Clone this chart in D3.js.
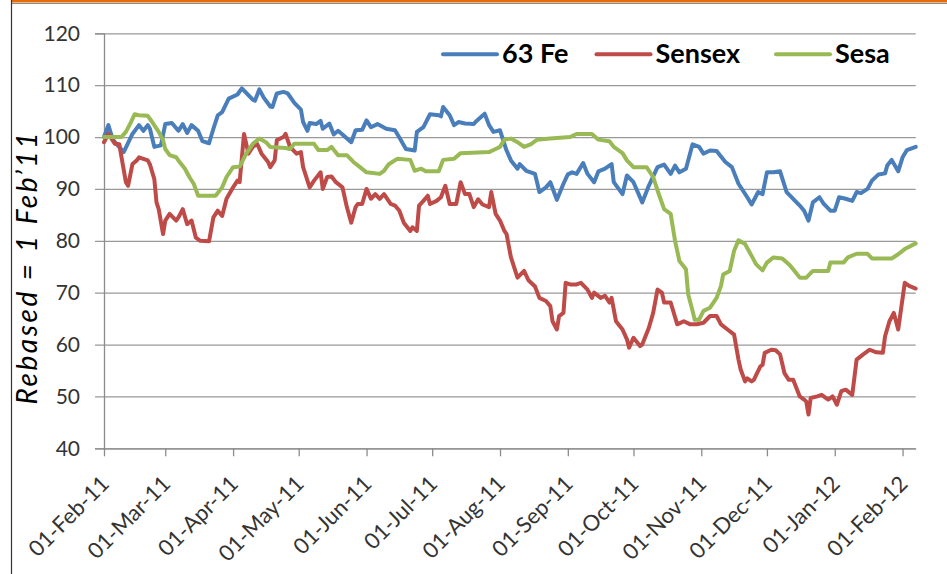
<!DOCTYPE html>
<html>
<head>
<meta charset="utf-8">
<script src="https://cdn.jsdelivr.net/npm/d3@7"></script>
<style>
  body { margin: 0; background: #fff; }
  svg { display: block; font-family: Lato, 'Open Sans', sans-serif; }
  .axis text { fill: #333; font-size: 21px; font-family: Lato, 'Open Sans', sans-serif; }
  .x.axis text { font-size: 22px; }
  .axis path, .axis line { stroke: #8c8c8c; stroke-width: 1.3; }
  .grid line { stroke: #999; stroke-width: 1.3; }
  .grid path { display: none; }
</style>
</head>
<body>
<div id="chart"></div>
<script>
// Rebased series, 1 Feb 2011 = 100. Values.
const fe63 = [
  ['2011-02-01', 100], ['2011-02-03', 102.3], ['2011-02-05', 99.5], ['2011-02-10', 97.1],
  ['2011-02-14', 100.6], ['2011-02-17', 102.3], ['2011-02-19', 101.2], ['2011-02-21', 102.3],
  ['2011-02-22', 101.6], ['2011-02-24', 98.1], ['2011-02-27', 98.4], ['2011-03-01', 102.5],
  ['2011-03-04', 102.7], ['2011-03-07', 101.2], ['2011-03-09', 102.5], ['2011-03-11', 100.8],
  ['2011-03-13', 102.3], ['2011-03-16', 101.2], ['2011-03-18', 99.2], ['2011-03-21', 98.8],
  ['2011-03-23', 101.6], ['2011-03-25', 104.2], ['2011-03-27', 104.8], ['2011-03-30', 107.4],
  ['2011-04-03', 108.2], ['2011-04-05', 109.4], ['2011-04-07', 108.5], ['2011-04-10', 107.2],
  ['2011-04-11', 107], ['2011-04-13', 109.2], ['2011-04-15', 107.6], ['2011-04-18', 105.9],
  ['2011-04-19', 105.8], ['2011-04-21', 108.4], ['2011-04-24', 108.7], ['2011-04-26', 108.4],
  ['2011-04-29', 106.6], ['2011-05-02', 105.3], ['2011-05-03', 102.9], ['2011-05-05', 101.2],
  ['2011-05-06', 102.7], ['2011-05-09', 102.5], ['2011-05-11', 103.1], ['2011-05-12', 101.6],
  ['2011-05-15', 102.6], ['2011-05-17', 100.5], ['2011-05-19', 101.2], ['2011-05-21', 100.5],
  ['2011-05-25', 99], ['2011-05-27', 101.3], ['2011-05-30', 101.4], ['2011-06-01', 103.2],
  ['2011-06-03', 101.9], ['2011-06-06', 102.5], ['2011-06-10', 101.6], ['2011-06-14', 101.3],
  ['2011-06-16', 99.9], ['2011-06-19', 97.7], ['2011-06-23', 97.4], ['2011-06-24', 101],
  ['2011-06-27', 101.9], ['2011-06-30', 104.4], ['2011-07-04', 104.2], ['2011-07-05', 104],
  ['2011-07-06', 105.8], ['2011-07-09', 104.2], ['2011-07-11', 102.3], ['2011-07-13', 102.9],
  ['2011-07-16', 102.6], ['2011-07-20', 102.5], ['2011-07-21', 103], ['2011-07-25', 104.5],
  ['2011-07-27', 102.3], ['2011-07-29', 101], ['2011-08-01', 101.3], ['2011-08-02', 100],
  ['2011-08-04', 97.4], ['2011-08-06', 95.5], ['2011-08-09', 93.9], ['2011-08-10', 94.8],
  ['2011-08-13', 93.5], ['2011-08-17', 92.9], ['2011-08-19', 89.4], ['2011-08-22', 90.3],
  ['2011-08-24', 91.3], ['2011-08-27', 87.9], ['2011-08-30', 91], ['2011-09-01', 92.8],
  ['2011-09-03', 93.2], ['2011-09-05', 92.9], ['2011-09-08', 95], ['2011-09-10', 92.9],
  ['2011-09-13', 91.3], ['2011-09-15', 93.4], ['2011-09-18', 93.9], ['2011-09-21', 94.8],
  ['2011-09-22', 91.3], ['2011-09-26', 89], ['2011-09-28', 92.6], ['2011-10-01', 91.3],
  ['2011-10-05', 87.4], ['2011-10-08', 90.6], ['2011-10-12', 94.2], ['2011-10-15', 94.7],
  ['2011-10-18', 92.9], ['2011-10-20', 94.5], ['2011-10-22', 93.2], ['2011-10-25', 93.9],
  ['2011-10-28', 98.6], ['2011-10-31', 98.1], ['2011-11-02', 96.8], ['2011-11-05', 97.4],
  ['2011-11-08', 97.3], ['2011-11-12', 95.2], ['2011-11-15', 94.2], ['2011-11-18', 91],
  ['2011-11-22', 88.4], ['2011-11-24', 87], ['2011-11-27', 89.4], ['2011-11-29', 89],
  ['2011-12-01', 93.2], ['2011-12-04', 93.2], ['2011-12-07', 93.4], ['2011-12-10', 89.4],
  ['2011-12-13', 88.1], ['2011-12-16', 86.8], ['2011-12-18', 85.8], ['2011-12-20', 83.9],
  ['2011-12-22', 87.4], ['2011-12-25', 88.4], ['2011-12-27', 87.1], ['2011-12-30', 85.8],
  ['2012-01-01', 85.8], ['2012-01-03', 88.4], ['2012-01-06', 88.1], ['2012-01-09', 87.7],
  ['2012-01-11', 89.4], ['2012-01-13', 89.2], ['2012-01-16', 90], ['2012-01-18', 91.6],
  ['2012-01-21', 92.8], ['2012-01-24', 93], ['2012-01-25', 94.5], ['2012-01-27', 95.6],
  ['2012-01-30', 93.4], ['2012-02-01', 96.1], ['2012-02-03', 97.5], ['2012-02-07', 98.1],
];

const sensex = [
  ['2011-02-01', 99], ['2011-02-03', 100.6], ['2011-02-06', 98.7], ['2011-02-08', 98.6],
  ['2011-02-09', 96.1], ['2011-02-11', 91.3], ['2011-02-12', 90.6], ['2011-02-14', 94.8],
  ['2011-02-16', 95.5], ['2011-02-17', 96.1], ['2011-02-21', 95.5], ['2011-02-22', 94.7],
  ['2011-02-24', 91.9], ['2011-02-25', 87.4], ['2011-02-26', 86.1], ['2011-02-28', 81.3],
  ['2011-03-01', 83.9], ['2011-03-03', 85.2], ['2011-03-06', 83.9], ['2011-03-07', 84.5],
  ['2011-03-09', 86.1], ['2011-03-11', 83.2], ['2011-03-13', 83.9], ['2011-03-15', 80.6],
  ['2011-03-17', 80], ['2011-03-21', 79.9], ['2011-03-23', 84.5], ['2011-03-25', 85.8],
  ['2011-03-27', 84.8], ['2011-03-29', 88.1], ['2011-04-01', 90.3], ['2011-04-03', 91.6],
  ['2011-04-04', 91.3], ['2011-04-06', 100.6], ['2011-04-08', 96.8], ['2011-04-10', 98.1],
  ['2011-04-12', 98.7], ['2011-04-14', 96.8], ['2011-04-17', 95.2], ['2011-04-18', 94.2],
  ['2011-04-20', 95.5], ['2011-04-21', 99.4], ['2011-04-24', 100], ['2011-04-25', 100.6],
  ['2011-04-27', 98.1], ['2011-04-30', 96.8], ['2011-05-02', 97.1], ['2011-05-03', 94.2],
  ['2011-05-06', 90.3], ['2011-05-08', 91.6], ['2011-05-11', 93.2], ['2011-05-12', 90],
  ['2011-05-14', 92.3], ['2011-05-16', 92.4], ['2011-05-18', 91.3], ['2011-05-21', 90.3],
  ['2011-05-23', 86.5], ['2011-05-25', 83.5], ['2011-05-27', 86.5], ['2011-05-28', 87.1],
  ['2011-05-30', 87.1], ['2011-06-01', 90], ['2011-06-03', 88.1], ['2011-06-05', 89],
  ['2011-06-07', 88.1], ['2011-06-09', 89], ['2011-06-12', 87.1], ['2011-06-14', 86.8],
  ['2011-06-16', 85.8], ['2011-06-18', 83.5], ['2011-06-21', 81.9], ['2011-06-22', 82.6],
  ['2011-06-24', 81.9], ['2011-06-25', 86.8], ['2011-06-27', 87.7], ['2011-06-29', 88.7],
  ['2011-06-30', 87.1], ['2011-07-03', 87.7], ['2011-07-05', 88.4], ['2011-07-07', 90.6],
  ['2011-07-09', 87.1], ['2011-07-12', 87.1], ['2011-07-14', 91.3], ['2011-07-16', 89],
  ['2011-07-18', 89], ['2011-07-20', 86.5], ['2011-07-22', 88], ['2011-07-24', 87],
  ['2011-07-27', 86.5], ['2011-07-28', 89.4], ['2011-07-30', 85.2], ['2011-08-01', 83.9],
  ['2011-08-03', 81.9], ['2011-08-04', 81.3], ['2011-08-06', 76.8], ['2011-08-07', 75.5],
  ['2011-08-09', 72.9], ['2011-08-12', 74.2], ['2011-08-14', 72.4], ['2011-08-17', 71.2],
  ['2011-08-19', 69], ['2011-08-22', 68.4], ['2011-08-24', 67.4], ['2011-08-25', 64.5],
  ['2011-08-27', 62.9], ['2011-08-28', 65.5], ['2011-08-30', 66.1], ['2011-08-31', 71.9],
  ['2011-09-02', 71.6], ['2011-09-05', 71.6], ['2011-09-07', 71.9], ['2011-09-10', 70.6],
  ['2011-09-12', 69], ['2011-09-13', 70], ['2011-09-16', 69], ['2011-09-18', 69.4],
  ['2011-09-20', 68.1], ['2011-09-21', 69], ['2011-09-23', 64.5], ['2011-09-26', 62.9],
  ['2011-09-28', 61], ['2011-09-29', 59.4], ['2011-10-01', 61.3], ['2011-10-04', 59.7],
  ['2011-10-05', 60], ['2011-10-08', 63.2], ['2011-10-10', 66.1], ['2011-10-12', 70.6],
  ['2011-10-14', 70], ['2011-10-15', 68.1], ['2011-10-18', 68.1], ['2011-10-21', 63.9],
  ['2011-10-24', 64.5], ['2011-10-27', 63.9], ['2011-10-30', 63.9], ['2011-11-02', 64.2],
  ['2011-11-05', 65.5], ['2011-11-08', 65.5], ['2011-11-10', 63.9], ['2011-11-13', 62.9],
  ['2011-11-16', 61.9], ['2011-11-18', 57.1], ['2011-11-19', 55.2], ['2011-11-21', 52.9],
  ['2011-11-22', 53.5], ['2011-11-24', 52.9], ['2011-11-25', 53.2], ['2011-11-28', 55.8],
  ['2011-11-29', 56.1], ['2011-11-30', 58.4], ['2011-12-03', 59], ['2011-12-05', 58.9],
  ['2011-12-07', 58.1], ['2011-12-09', 54.5], ['2011-12-11', 53.2], ['2011-12-13', 53.2],
  ['2011-12-16', 50], ['2011-12-18', 49.4], ['2011-12-19', 49], ['2011-12-20', 46.5],
  ['2011-12-21', 49.7], ['2011-12-24', 50], ['2011-12-26', 50.3], ['2011-12-29', 49.4],
  ['2011-12-31', 50], ['2012-01-02', 48.4], ['2012-01-04', 51], ['2012-01-06', 51.3],
  ['2012-01-09', 50.3], ['2012-01-11', 57.1], ['2012-01-14', 58.1], ['2012-01-17', 59],
  ['2012-01-20', 58.5], ['2012-01-23', 58.4], ['2012-01-24', 61.6], ['2012-01-26', 64.5],
  ['2012-01-28', 66.1], ['2012-01-29', 64.5], ['2012-01-30', 62.9], ['2012-02-02', 71.9],
  ['2012-02-04', 71.3], ['2012-02-07', 70.8],
];

const sesa = [
  ['2011-02-01', 100], ['2011-02-09', 100], ['2011-02-11', 101], ['2011-02-13', 102.6],
  ['2011-02-15', 104.4], ['2011-02-17', 104.2], ['2011-02-21', 104.1], ['2011-02-23', 102.9],
  ['2011-02-26', 101], ['2011-02-28', 99.4], ['2011-03-01', 97.7], ['2011-03-03', 96.5],
  ['2011-03-06', 96.1], ['2011-03-07', 95.5], ['2011-03-10', 93.9], ['2011-03-12', 92.3],
  ['2011-03-14', 91], ['2011-03-16', 88.7], ['2011-03-24', 88.7], ['2011-03-27', 90.3],
  ['2011-03-29', 92.3], ['2011-04-01', 94.2], ['2011-04-04', 94.3], ['2011-04-07', 96.8],
  ['2011-04-10', 98.7], ['2011-04-13', 99.7], ['2011-04-16', 99], ['2011-04-18', 98.1],
  ['2011-04-25', 97.9], ['2011-04-27', 97.7], ['2011-04-29', 98.7], ['2011-05-08', 98.7],
  ['2011-05-10', 97.5], ['2011-05-14', 97.5], ['2011-05-16', 98.1], ['2011-05-19', 96.5],
  ['2011-05-23', 96.5], ['2011-05-26', 95.2], ['2011-05-29', 94.2], ['2011-06-01', 93.2],
  ['2011-06-07', 92.9], ['2011-06-09', 93.5], ['2011-06-11', 94.7], ['2011-06-15', 95.8],
  ['2011-06-21', 95.6], ['2011-06-23', 93.5], ['2011-06-26', 93.9], ['2011-06-28', 93.4],
  ['2011-07-04', 93.4], ['2011-07-06', 95.6], ['2011-07-11', 95.8], ['2011-07-14', 96.9],
  ['2011-07-27', 97.1], ['2011-07-30', 97.7], ['2011-08-01', 98.1], ['2011-08-03', 99.5],
  ['2011-08-06', 99.7], ['2011-08-09', 99], ['2011-08-12', 98.1], ['2011-08-15', 98.6],
  ['2011-08-18', 99.5], ['2011-08-24', 99.7], ['2011-09-02', 100], ['2011-09-05', 100.6],
  ['2011-09-12', 100.6], ['2011-09-15', 99.5], ['2011-09-20', 99.2], ['2011-09-22', 98.1],
  ['2011-09-26', 96.9], ['2011-09-28', 95.5], ['2011-10-01', 94.2], ['2011-10-07', 94.2],
  ['2011-10-10', 92.3], ['2011-10-12', 89.7], ['2011-10-15', 86.1], ['2011-10-18', 85.2],
  ['2011-10-20', 80], ['2011-10-22', 76.1], ['2011-10-25', 74.5], ['2011-10-26', 69.7],
  ['2011-10-28', 66.5], ['2011-10-29', 64.8], ['2011-10-31', 64.8], ['2011-11-02', 66.5],
  ['2011-11-05', 67.1], ['2011-11-08', 69], ['2011-11-10', 71.3], ['2011-11-11', 73.5],
  ['2011-11-14', 74.2], ['2011-11-16', 78.1], ['2011-11-18', 80.1], ['2011-11-21', 79.4],
  ['2011-11-24', 77.1], ['2011-11-26', 75.5], ['2011-11-29', 74.3], ['2011-12-01', 75.8],
  ['2011-12-04', 76.8], ['2011-12-08', 76.6], ['2011-12-11', 75.5], ['2011-12-13', 74.5],
  ['2011-12-16', 72.9], ['2011-12-19', 72.9], ['2011-12-22', 74.2], ['2011-12-29', 74.2],
  ['2011-12-30', 75.8], ['2012-01-05', 75.8], ['2012-01-07', 76.8], ['2012-01-11', 77.5],
  ['2012-01-16', 77.5], ['2012-01-18', 76.6], ['2012-01-27', 76.6], ['2012-01-30', 77.4],
  ['2012-02-02', 78.4], ['2012-02-07', 79.5],
];

const seriesNames = ['63 Fe', 'Sensex', 'Sesa'];
const seriesColors = ['#4a7ebb', '#be4b48', '#98b954'];
const yTicks = [40, 50, 60, 70, 80, 90, 100, 110, 120];
const monthTicks = [
  '2011-02-01', '2011-03-01', '2011-04-01', '2011-05-01', '2011-06-01', '2011-07-01',
  '2011-08-01', '2011-09-01', '2011-10-01', '2011-11-01', '2011-12-01', '2012-01-01',
  '2012-02-01',
];

const parseDate = d3.timeParse('%Y-%m-%d');
const formatTick = d3.timeFormat('%d-%b-%y');

const imageWidth = 947;
const imageHeight = 574;
const margin = { top: 33.3, right: 31.3, bottom: 125.7, left: 104 };
const width = imageWidth - margin.left - margin.right;
const height = imageHeight - margin.top - margin.bottom;

const series = [fe63, sensex, sesa].map((rows) => rows.map(([d, v]) => ({ date: parseDate(d), value: v })));

const x = d3.scaleTime()
  .domain([parseDate('2011-02-01'), parseDate('2012-02-07')])
  .range([0, width]);

const y = d3.scaleLinear()
  .domain([40, 120])
  .range([height, 0]);

const svg = d3.select('#chart').append('svg')
  .attr('width', imageWidth)
  .attr('height', imageHeight);

// Slide frame: orange bar on top and a thin border on the left.
svg.append('rect')
  .attr('x', 11).attr('y', 0)
  .attr('width', imageWidth - 11).attr('height', 2.5)
  .attr('fill', '#e46c0a');
svg.append('line')
  .attr('x1', 11).attr('x2', imageWidth)
  .attr('y1', 3.5).attr('y2', 3.5)
  .attr('stroke', '#8c8c8c').attr('stroke-width', 1);
svg.append('line')
  .attr('x1', 11.5).attr('x2', 11.5)
  .attr('y1', 0).attr('y2', imageHeight)
  .attr('stroke', '#333').attr('stroke-width', 1.2);

const g = svg.append('g')
  .attr('transform', `translate(${margin.left},${margin.top})`);

// Horizontal gridlines (they also carry the outside tick marks).
g.append('g')
  .attr('class', 'grid')
  .call(d3.axisLeft(y).tickValues(yTicks).tickSize(-width).tickFormat(''))
  .selectAll('line')
  .attr('x1', -9);

// Y axis
g.append('g')
  .attr('class', 'y axis')
  .call(d3.axisLeft(y).tickValues(yTicks).tickSize(9).tickPadding(15))
  .call((a) => a.selectAll('line').remove());

// X axis with rotated date labels
g.append('g')
  .attr('class', 'x axis')
  .attr('transform', `translate(0,${height})`)
  .call(d3.axisBottom(x).tickValues(monthTicks.map(parseDate)).tickSize(8).tickSizeOuter(0)
    .tickFormat(formatTick))
  .selectAll('text')
  .attr('x', 0)
  .attr('y', 0)
  .attr('dy', 0)
  .attr('text-anchor', 'end')
  .attr('transform', 'translate(6,37) rotate(-45)');

// Y axis label
svg.append('text')
  .attr('transform', 'translate(37,268.5) rotate(-90)')
  .attr('text-anchor', 'middle')
  .attr('textLength', 272)
  .attr('lengthAdjust', 'spacing')
  .style('font-style', 'italic')
  .style('font-size', '28px')
  .attr('fill', '#000')
  .text('Rebased = 1 Feb\u201911');

// Lines
const line = d3.line()
  .x((d) => x(d.date))
  .y((d) => y(d.value));

g.selectAll('.series')
  .data(series)
  .join('path')
  .attr('class', 'series')
  .attr('fill', 'none')
  .attr('stroke', (d, i) => seriesColors[i])
  .attr('stroke-width', 4)
  .attr('stroke-linejoin', 'round')
  .attr('stroke-linecap', 'round')
  .attr('d', line);

// Legend
const legendX = [443, 596.5, 776];
const legend = svg.append('g')
  .selectAll('g')
  .data(seriesNames)
  .join('g')
  .attr('transform', (d, i) => `translate(${legendX[i]},54.3)`);
legend.append('line')
  .attr('x1', 0).attr('x2', 54)
  .attr('stroke', (d, i) => seriesColors[i])
  .attr('stroke-width', 4)
  .attr('stroke-linecap', 'round');
legend.append('text')
  .attr('x', 59)
  .attr('y', 9)
  .style('font-size', '27px')
  .style('font-weight', 'bold')
  .attr('fill', '#000')
  .text((d) => d);
</script>
</body>
</html>
